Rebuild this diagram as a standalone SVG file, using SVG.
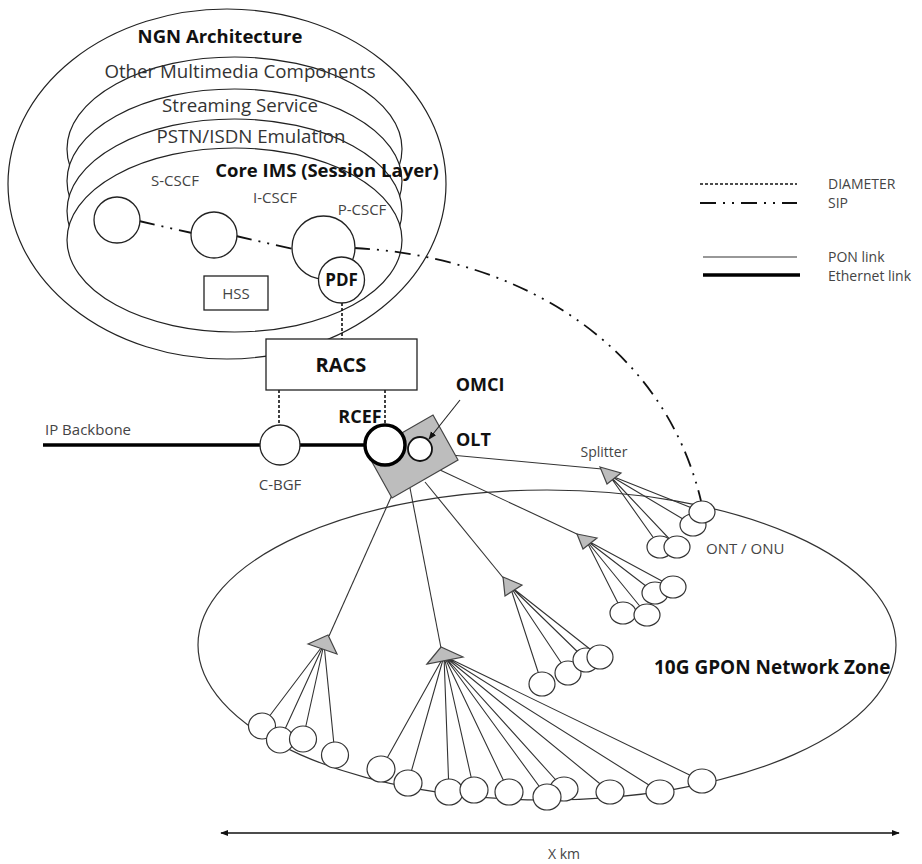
<svg xmlns="http://www.w3.org/2000/svg" width="922" height="864" viewBox="0 0 922 864">
<defs>
<style>
text{font-family:"Open Sans","Noto Sans","Liberation Sans",sans-serif;fill:#333}
.lay{fill:#fff;stroke:#222;stroke-width:1.2}
.t18{font-size:18.7px}
.b{font-weight:bold;fill:#111}
.s15{font-size:15px;fill:#444}
.s14{font-size:14px;fill:#444}
.nd{fill:#fff;stroke:#222;stroke-width:1.3}
.pon{stroke:#333;stroke-width:1.1;fill:none}
.eth{stroke:#000;stroke-width:3.5;fill:none}
.dia{stroke:#111;stroke-width:1.6;stroke-dasharray:3 2;fill:none}
.sip{stroke:#111;stroke-width:1.8;stroke-dasharray:16 7 2 7 2 7;fill:none}
.spl{fill:#bdbdbd;stroke:#444;stroke-width:1.2}
.ont{fill:#fff;stroke:#333;stroke-width:1.2}
.mid{text-anchor:middle}
</style>
<marker id="ah" viewBox="0 0 10 10" refX="9" refY="5" markerWidth="8" markerHeight="8" markerUnits="userSpaceOnUse" orient="auto-start-reverse">
<path d="M0,1 L10,5 L0,9 z" fill="#111"/>
</marker>
</defs>
<rect width="922" height="864" fill="#fff"/>

<!-- NGN stacked layers -->
<g id="ngn-architecture">
<ellipse class="lay" cx="227" cy="184" rx="219" ry="175"/>
<ellipse class="lay" cx="234.5" cy="149" rx="167.5" ry="92"/>
<ellipse class="lay" cx="234.5" cy="181" rx="167.5" ry="92"/>
<ellipse class="lay" cx="234.5" cy="211" rx="167.5" ry="92"/>
<ellipse class="lay" cx="234.5" cy="240" rx="167.5" ry="92"/>
<text class="b mid" x="220" y="43" font-size="18.5">NGN Architecture</text>
<text class="t18 mid" x="240" y="78">Other Multimedia Components</text>
<text class="t18 mid" x="240" y="112">Streaming Service</text>
<text class="t18 mid" x="251" y="143">PSTN/ISDN Emulation</text>
<text class="b mid" x="327" y="177" font-size="18.5">Core IMS (Session Layer)</text>
</g>

<!-- connectors -->
<g id="connectors">
<line class="sip" x1="139" y1="221" x2="192" y2="233"/>
<line class="sip" x1="236" y1="236" x2="293" y2="249"/>
<path class="sip" d="M354,248 C500,255 660,330 701,501"/>
<line class="dia" x1="342" y1="303" x2="342" y2="339"/>
<line class="dia" x1="279" y1="390" x2="279" y2="425"/>
<line class="dia" x1="385" y1="390" x2="385" y2="425"/>
<line class="eth" x1="43" y1="445" x2="370" y2="445"/>
<line x1="221" y1="833" x2="899" y2="833" stroke="#111" stroke-width="1.6" marker-start="url(#ah)" marker-end="url(#ah)"/>
</g>

<g id="s-cscf"><circle class="nd" cx="117" cy="220" r="23"/><text class="s15 mid" x="175" y="186">S-CSCF</text></g>
<g id="i-cscf"><circle class="nd" cx="214" cy="235" r="23"/><text class="s15 mid" x="275" y="203">I-CSCF</text></g>
<g id="p-cscf"><circle class="nd" cx="323.5" cy="247.5" r="31.5"/><text class="s15 mid" x="362" y="215">P-CSCF</text></g>
<g id="pdf"><circle class="nd" cx="341.5" cy="280" r="23"/><text class="b mid" x="341.5" y="286" font-size="17">PDF</text></g>
<g id="hss"><rect class="nd" x="204" y="276" width="64" height="34"/><text class="s15 mid" x="236" y="299">HSS</text></g>
<g id="racs"><rect class="nd" x="266" y="339" width="151" height="51"/><text class="b mid" x="341" y="372" font-size="20">RACS</text></g>

<g id="ip-backbone"><text class="s15" x="45" y="435">IP Backbone</text></g>
<g id="c-bgf"><circle class="nd" cx="280" cy="445" r="20"/><text class="s15 mid" x="280" y="490">C-BGF</text></g>

<!-- GPON zone -->
<g id="gpon-zone">
<ellipse cx="547" cy="645" rx="349" ry="155" fill="none" stroke="#333" stroke-width="1.2"/>
<text class="b" x="654" y="674" font-size="19">10G GPON Network Zone</text>
</g>

<!-- PON links -->
<g id="pon-links">
<line class="pon" x1="440" y1="454" x2="602" y2="469"/>
<line class="pon" x1="440" y1="470" x2="579" y2="535"/>
<line class="pon" x1="425" y1="482" x2="505" y2="580"/>
<line class="pon" x1="410" y1="488" x2="441" y2="648"/>
<line class="pon" x1="392" y1="495" x2="329" y2="636"/>
<path class="pon" d="M609,475 L693,525 M609,475 L702,512 M609,475 L660,547 M609,475 L677,547"/>
<path class="pon" d="M586,540 L623,613 M586,540 L647,615 M586,540 L655,593 M586,540 L673,587"/>
<path class="pon" d="M510,586 L542,684 M510,586 L568,673 M510,586 L586,660 M510,586 L600,657"/>
<path class="pon" d="M444,656 L381,769 M444,656 L408,783 M444,656 L449,792 M444,656 L474,790 M444,656 L509,792 M444,656 L564,789 M444,656 L547,797 M444,656 L610,792 M444,656 L660,792 M444,656 L702,781"/>
<path class="pon" d="M324,644 L262,726 M324,644 L280,740 M324,644 L303,739 M324,644 L335,755"/>
</g>

<g id="olt">
<polygon points="433,415 458,460 392,498 367,453" fill="#bdbdbd" stroke="#444" stroke-width="1.2"/>
<text class="b" x="456" y="446" font-size="18">OLT</text>
</g>
<g id="rcef"><circle cx="385" cy="445" r="20" fill="#fff" stroke="#000" stroke-width="3.5"/><text class="b mid" x="360" y="423" font-size="18">RCEF</text></g>
<g id="omci"><circle cx="420" cy="449" r="12" fill="#fff" stroke="#111" stroke-width="1.8"/><text class="b mid" x="480" y="391" font-size="18">OMCI</text></g>

<g id="omci-pointer">
<line x1="460" y1="400" x2="429" y2="439" stroke="#222" stroke-width="1.1" marker-end="url(#ah)"/>
</g>

<g id="splitter-1"><polygon class="spl" points="600,467 621,473 607,484"/><text class="s14 mid" x="604" y="457">Splitter</text></g>
<g id="splitter-2"><polygon class="spl" points="577,534 597,538 583,549"/></g>
<g id="splitter-3"><polygon class="spl" points="503,577 522,585 505,596"/></g>
<g id="splitter-4"><polygon class="spl" points="427,664 441,647 463,657"/></g>
<g id="splitter-5"><polygon class="spl" points="308,644 328,635 337,654"/></g>

<!-- ONTs -->
<g id="ont-1"><ellipse class="ont" cx="693" cy="525" rx="13" ry="11"/></g>
<g id="ont-2"><ellipse class="ont" cx="702" cy="512" rx="13" ry="11"/></g>
<g id="ont-3"><ellipse class="ont" cx="660" cy="547" rx="13" ry="11"/></g>
<g id="ont-4"><ellipse class="ont" cx="677" cy="547" rx="13" ry="11"/></g>
<g id="ont-label"><text class="s15" x="706" y="554">ONT / ONU</text></g>
<g id="ont-5"><ellipse class="ont" cx="623" cy="613" rx="13" ry="11"/></g>
<g id="ont-6"><ellipse class="ont" cx="647" cy="615" rx="13" ry="11"/></g>
<g id="ont-7"><ellipse class="ont" cx="655" cy="593" rx="13" ry="11"/></g>
<g id="ont-8"><ellipse class="ont" cx="673" cy="587" rx="13" ry="11"/></g>
<g id="ont-9"><ellipse class="ont" cx="542" cy="684" rx="13" ry="12"/></g>
<g id="ont-10"><ellipse class="ont" cx="568" cy="673" rx="13" ry="12"/></g>
<g id="ont-11"><ellipse class="ont" cx="586" cy="660" rx="13" ry="12"/></g>
<g id="ont-12"><ellipse class="ont" cx="600" cy="657" rx="13" ry="12"/></g>
<g id="ont-13"><ellipse class="ont" cx="262" cy="726" rx="13.5" ry="13"/></g>
<g id="ont-14"><ellipse class="ont" cx="280" cy="740" rx="13.5" ry="13"/></g>
<g id="ont-15"><ellipse class="ont" cx="303" cy="739" rx="13.5" ry="13"/></g>
<g id="ont-16"><ellipse class="ont" cx="335" cy="755" rx="13.5" ry="13"/></g>
<g id="ont-17"><ellipse class="ont" cx="381" cy="769" rx="14" ry="13"/></g>
<g id="ont-18"><ellipse class="ont" cx="408" cy="783" rx="14" ry="13"/></g>
<g id="ont-19"><ellipse class="ont" cx="449" cy="792" rx="14" ry="13"/></g>
<g id="ont-20"><ellipse class="ont" cx="474" cy="790" rx="14" ry="13"/></g>
<g id="ont-21"><ellipse class="ont" cx="509" cy="792" rx="14" ry="13"/></g>
<g id="ont-22"><ellipse class="ont" cx="564" cy="789" rx="14" ry="12"/></g>
<g id="ont-23"><ellipse class="ont" cx="547" cy="797" rx="14" ry="13"/></g>
<g id="ont-24"><ellipse class="ont" cx="610" cy="792" rx="14" ry="12"/></g>
<g id="ont-25"><ellipse class="ont" cx="660" cy="792" rx="14" ry="12"/></g>
<g id="ont-26"><ellipse class="ont" cx="702" cy="781" rx="14" ry="12"/></g>

<!-- legend -->
<g id="legend">
<line class="dia" x1="700" y1="184" x2="797" y2="184"/>
<text class="s14" x="828" y="189">DIAMETER</text>
<line class="sip" x1="700" y1="203" x2="797" y2="203" stroke-width="2"/>
<text class="s14" x="828" y="208">SIP</text>
<line class="pon" x1="703" y1="257" x2="797" y2="257"/>
<text class="s14" x="828" y="262">PON link</text>
<line class="eth" x1="703" y1="275" x2="800" y2="275"/>
<text class="s14" x="828" y="281">Ethernet link</text>
</g>
<g id="distance"><text class="s14 mid" x="564" y="859">X km</text></g>
</svg>
